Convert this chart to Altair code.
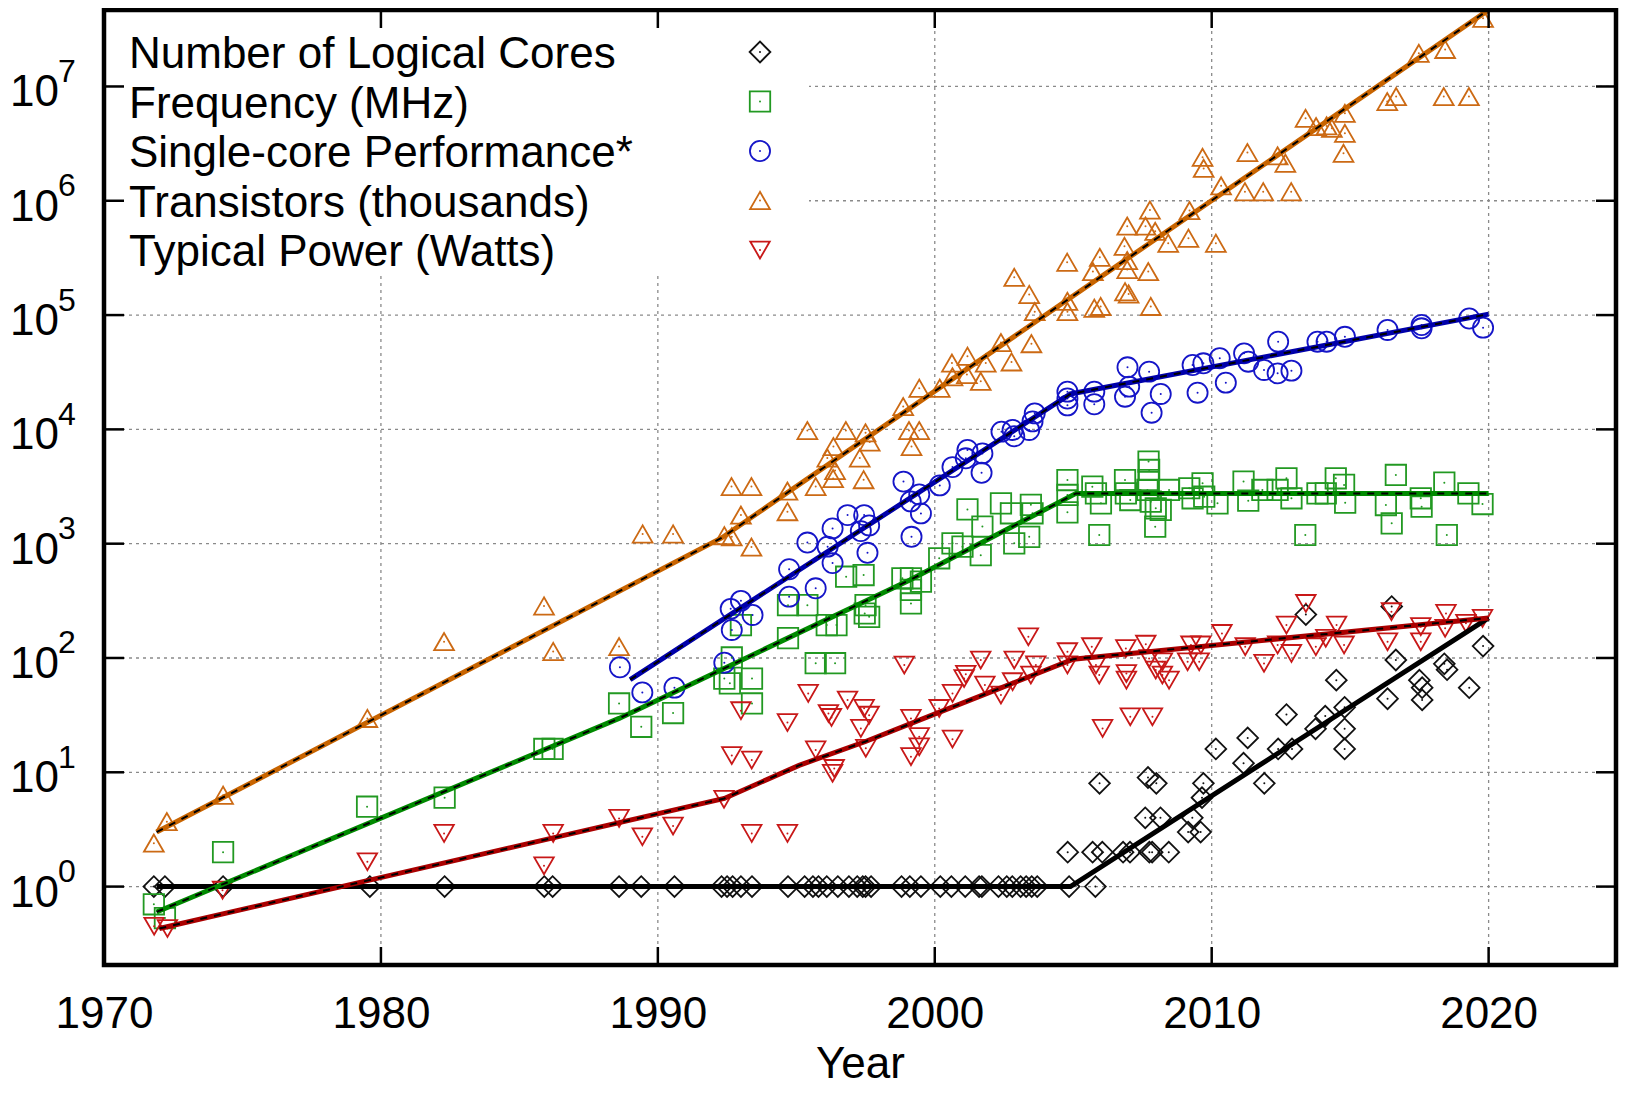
import altair as alt
import pandas as pd

FONT = "Liberation Sans"

SERIES = ["Number of Logical Cores", "Frequency (MHz)", "Single-core Performance*",
          "Transistors (thousands)", "Typical Power (Watts)"]
MARK_COLORS = ["#111111", "#229922", "#1515C8", "#CC6A14", "#C81818"]
LINE_COLORS = ["#000000", "#008A00", "#0000AA", "#C86400", "#AA0000"]
SHAPES = ["diamond", "square", "circle", "triangle-up", "triangle-down"]
SIZES = [430, 380, 330, 400, 400]

# ---- data: (year, value) ----
CORES = [(1971.8, 1), (1972.2, 1), (1974.3, 1), (1979.6, 1), (1982.3, 1), (1985.9, 1), (1986.2, 1),
         (1988.6, 1), (1989.4, 1), (1990.6, 1), (1992.3, 1), (1992.5, 1), (1992.7, 1), (1993.0, 1),
         (1993.4, 1), (1994.7, 1), (1995.3, 1), (1995.6, 1), (1995.8, 1), (1996.1, 1), (1996.5, 1),
         (1996.9, 1), (1997.2, 1), (1997.4, 1), (1997.5, 1), (1997.7, 1), (1998.8, 1), (1999.1, 1),
         (1999.5, 1), (2000.2, 1), (2000.6, 1), (2001.1, 1), (2001.6, 1), (2001.7, 1), (2002.3, 1),
         (2002.6, 1), (2002.8, 1), (2003.1, 1), (2003.3, 1), (2003.5, 1), (2003.7, 1), (2004.85, 1),
         (2005.8, 1),
         (2004.8, 2), (2005.7, 2), (2006.05, 2), (2006.8, 2), (2007.05, 2), (2007.75, 2), (2007.85, 2),
         (2008.45, 2), (2005.95, 8), (2007.7, 9), (2008.0, 8), (2007.6, 4), (2008.15, 4), (2009.15, 3),
         (2009.3, 4), (2009.6, 3), (2009.65, 6), (2009.7, 8), (2010.15, 16), (2011.15, 12), (2011.3, 20),
         (2011.9, 8), (2012.4, 16), (2012.7, 32), (2012.9, 16), (2013.75, 24), (2014.1, 31), (2014.5, 64),
         (2014.8, 37), (2014.8, 24), (2014.8, 16), (2013.4, 240), (2016.35, 44), (2016.65, 96),
         (2016.5, 282), (2017.5, 64), (2017.6, 55), (2017.6, 43), (2018.4, 89), (2018.5, 79),
         (2019.3, 55), (2019.8, 127)]

FREQ = [(1971.8, 0.70), (1972.2, 0.53), (1974.3, 2.0), (1979.5, 5.0), (1982.3, 6.0), (1985.9, 16),
        (1986.2, 16), (1988.6, 40), (1989.4, 25), (1990.55, 33), (1992.4, 66), (1992.67, 101),
        (1992.6, 60), (1993.4, 66), (1993.4, 40), (1993.0, 194), (1994.7, 149), (1994.7, 290),
        (1995.4, 290), (1995.7, 90), (1996.4, 90), (1996.1, 194), (1996.45, 194), (1997.47, 245),
        (1997.5, 290), (1997.63, 229), (1996.8, 514), (1997.43, 532), (1998.83, 498), (1999.14, 498),
        (1999.14, 300), (1999.5, 466), (1999.14, 394), (2000.16, 745), (2000.64, 1007), (2001.0, 942),
        (2001.66, 794), (2001.18, 1995), (2001.72, 1413), (2002.39, 2254), (2002.75, 1845),
        (2003.47, 2188), (2003.53, 1845), (2002.87, 1007), (2003.41, 1148),
        (2004.79, 3606), (2004.79, 2667), (2004.79, 1879), (2005.69, 3155), (2005.82, 2754),
        (2006.0, 2254), (2005.94, 1191), (2006.87, 3606), (2006.9, 2754), (2007.06, 2410),
        (2007.72, 5224), (2007.74, 4416), (2007.72, 3606), (2007.68, 2951), (2007.8, 2333),
        (2007.98, 2037), (2007.96, 1409), (2008.46, 2951), (2008.16, 1972), (2009.19, 3055),
        (2009.31, 2495), (2009.67, 3373), (2009.73, 2576), (2010.21, 2254), (2011.15, 3491),
        (2011.32, 2377), (2011.83, 2951), (2012.38, 2951), (2012.7, 3733), (2012.88, 2495),
        (2013.38, 1191), (2013.82, 2754), (2014.12, 2754), (2014.48, 3733), (2014.78, 3266),
        (2014.82, 2286), (2016.29, 2178), (2016.65, 3990), (2016.5, 1507), (2017.55, 2495),
        (2017.58, 2109), (2018.4, 3420), (2018.49, 1191), (2019.27, 2754), (2019.78, 2223)]

PERF = [(1988.63, 83), (1989.44, 50), (1990.6, 55), (1992.4, 91), (1992.67, 176), (1992.63, 269),
        (1993.0, 316), (1993.42, 238), (1994.74, 344), (1995.7, 407), (1994.74, 597), (1995.4, 1023),
        (1996.13, 942), (1996.31, 676), (1996.31, 1361), (1996.85, 1778), (1997.45, 1778),
        (1997.63, 1445), (1997.33, 1288), (1997.57, 832), (1998.87, 3491), (1999.16, 1148),
        (1999.13, 2344), (1999.5, 1841), (1999.44, 2692), (2000.18, 3236), (2000.64, 4677),
        (2001.12, 5585), (2001.18, 6607), (2001.72, 6166), (2001.69, 4169), (2002.41, 9550),
        (2002.87, 8710), (2002.81, 9886), (2003.41, 9886), (2003.53, 11749), (2003.61, 13804),
        (2004.79, 21380), (2004.79, 18621), (2004.79, 16218), (2005.76, 21380), (2005.76, 16596),
        (2006.96, 34914), (2006.87, 19320), (2007.02, 23659), (2007.74, 31989), (2008.16, 20417),
        (2007.83, 13996), (2009.31, 36559), (2009.7, 37844), (2009.49, 20941), (2010.29, 41879),
        (2010.51, 25645), (2011.17, 46238), (2011.32, 39084), (2012.4, 58479), (2011.89, 33113),
        (2012.38, 30903), (2012.88, 32659), (2013.82, 58479), (2014.15, 58479), (2014.81, 64565),
        (2016.35, 74131), (2017.58, 81846), (2017.58, 76560), (2019.3, 93325), (2019.8, 77625)]

TRANS = [(1971.8, 2.4), (1972.27, 3.7), (1974.3, 6.3), (1979.51, 29.6), (1982.28, 139),
         (1985.89, 285), (1986.22, 114), (1988.6, 126), (1989.45, 1216), (1990.55, 1216),
         (1992.4, 1175), (1992.67, 1148), (1993.38, 933), (1993.0, 1778), (1992.66, 3162),
         (1993.38, 3162), (1994.68, 2884), (1994.68, 1905), (1995.7, 3162), (1996.33, 3715),
         (1996.4, 4365), (1997.43, 3631), (1996.12, 5623), (1996.34, 7079), (1997.29, 5623),
         (1995.4, 9772), (1996.79, 9772), (1997.5, 9333), (1997.65, 7762), (1999.07, 9772),
         (1999.44, 9772), (1999.16, 7079), (1998.86, 15849), (1999.44, 22909), (2000.18, 22909),
         (2000.62, 38019), (2001.18, 43652), (2000.64, 28840), (2001.16, 30200), (2001.66, 26303),
         (2001.84, 38019), (2002.39, 57544), (2002.77, 38905), (2003.49, 56234), (2003.41, 151356),
         (2003.61, 107152), (2004.79, 131826), (2004.79, 107152), (2005.76, 114815),
         (2002.87, 213796), (2005.99, 119000), (2006.87, 160000), (2007.0, 153000), (2007.8, 119000),
         (2004.78, 290000), (2005.71, 240000), (2005.96, 320000), (2006.95, 300000),
         (2006.95, 250000), (2007.71, 240000), (2006.85, 400000), (2006.95, 600000),
         (2007.61, 600000), (2007.96, 540000), (2008.43, 425000), (2007.77, 830000),
         (2009.2, 820000), (2009.16, 470000), (2010.15, 425000), (2009.67, 2400000),
         (2009.71, 1920000), (2010.34, 1350000), (2011.2, 1200000), (2011.86, 1200000),
         (2012.87, 1200000), (2011.29, 2640000), (2012.38, 2470000), (2012.66, 2130000),
         (2013.39, 5270000), (2013.77, 4460000), (2014.15, 4520000), (2014.34, 4310000),
         (2014.81, 5820000), (2014.81, 3890000), (2014.76, 2600000), (2016.34, 7380000),
         (2016.66, 8150000), (2018.38, 8150000), (2019.29, 8150000), (2017.48, 19500000),
         (2018.43, 21100000), (2019.8, 39500000)]

POWER = [(1971.81, 0.45), (1972.29, 0.43), (1974.28, 0.93), (1979.51, 1.65), (1982.28, 2.92),
         (1985.89, 1.52), (1986.22, 2.92), (1988.6, 3.95), (1989.44, 2.73), (1990.55, 3.39),
         (1992.39, 5.8), (1993.39, 2.92), (1994.68, 2.92), (1992.67, 14), (1993.39, 12.8),
         (1993.0, 34.6), (1994.68, 27.2), (1995.43, 49), (1995.7, 15.7), (1996.37, 10.8),
         (1996.31, 9.8), (1996.16, 32.7), (1996.27, 30.2), (1996.85, 42.9), (1997.33, 24.2),
         (1997.51, 16.2), (1997.45, 36.3), (1997.63, 31.6), (1998.9, 86.7), (1999.14, 29.6),
         (1999.44, 20.5), (1999.44, 16.7), (1999.14, 13.7), (2000.16, 36.2), (2000.64, 19.5),
         (2000.64, 49), (2001.12, 72), (2001.06, 66), (2001.66, 96), (2001.81, 58), (2002.39, 47.4),
         (2002.81, 62), (2002.87, 96), (2003.38, 153), (2003.47, 71), (2003.65, 87), (2004.79, 113.5),
         (2004.79, 87), (2005.67, 125.6), (2005.82, 87), (2005.94, 71), (2006.06, 24.2),
         (2006.9, 121), (2006.92, 73), (2006.92, 64), (2007.06, 30.6), (2007.62, 132), (2007.74, 99),
         (2007.86, 30.6), (2007.98, 78.5), (2008.22, 92.7), (2008.22, 71), (2008.46, 64),
         (2009.13, 92.7), (2009.25, 130), (2009.55, 92.7), (2009.61, 130), (2010.37, 164),
         (2011.21, 125.6), (2011.89, 89.7), (2012.38, 130), (2012.7, 194), (2012.88, 109.6),
         (2013.4, 300), (2013.76, 125.6), (2014.12, 148.6), (2014.51, 194), (2014.78, 130),
         (2016.35, 138.7), (2016.49, 254), (2017.55, 138.7), (2017.55, 188), (2018.46, 245.5),
         (2018.43, 181.6), (2019.18, 201), (2019.78, 222)]

# fitted trend lines (break points)
TREND_CORES = [(1971.9, 1.0), (2004.9, 1.0), (2020.0, 224)]
TREND_FREQ = [(1971.9, 0.60), (1988.6, 29.6), (1999.1, 481), (2005.1, 2754), (2020.0, 2754)]
TREND_PERF = [(1989.0, 64.6), (2004.9, 20400), (2020.0, 102000)]
TREND_TRANS = [(1971.9, 3.0), (1992.3, 1122), (2020.0, 46800000)]
TREND_POWER = [(1972.0, 0.43), (1992.4, 5.9), (1995.1, 11.5), (1997.5, 18.6), (1999.9, 31.6),
               (2002.3, 53.7), (2005.0, 97.7), (2020.0, 224)]

X_TICKS = [1970, 1980, 1990, 2000, 2010, 2020]
Y_EXPONENTS = [0, 1, 2, 3, 4, 5, 6, 7]

# ---- layout ----
W, H = 1512, 955
X_DOMAIN = [1970, 2024.6]
Y_DOMAIN = [10 ** -0.686, 10 ** 7.669]
GRID = "#8a8a8a"

pts = pd.DataFrame(
    [dict(series=s, year=y, val=v) for s, data in zip(SERIES, [CORES, FREQ, PERF, TRANS, POWER])
     for (y, v) in data])
trend = pd.DataFrame(
    [dict(series=s, year=y, val=v, k=i) for s, data in
     zip(SERIES, [TREND_CORES, TREND_FREQ, TREND_PERF, TREND_TRANS, TREND_POWER])
     for i, (y, v) in enumerate(data)])
xt = pd.DataFrame({"year": X_TICKS})
yt = pd.DataFrame({"exp": Y_EXPONENTS, "val": [10.0 ** e for e in Y_EXPONENTS],
                   "ten": ["10"] * len(Y_EXPONENTS), "sup": [str(e) for e in Y_EXPONENTS]})
leg = pd.DataFrame({"series": SERIES})
one = pd.DataFrame({"k": [0]})

xs = alt.Scale(domain=X_DOMAIN, nice=False, zero=False)
ys = alt.Scale(type="log", domain=Y_DOMAIN, nice=False)
xax = alt.Axis(values=X_TICKS, format="d", grid=False, ticks=False, domain=False,
               labelFontSize=44, labelFont=FONT, labelColor="black", labelPadding=27,
               labelFlush=False, title="Year", titleFontSize=44, titleFont=FONT,
               titleFontWeight="normal", titleColor="black", titlePadding=6)


def X():
    return alt.X("year:Q", scale=xs, axis=xax)


def Y():
    return alt.Y("val:Q", scale=ys, axis=None)


shape_enc = alt.Shape("series:N", scale=alt.Scale(domain=SERIES, range=SHAPES), legend=None)
size_enc = alt.Size("series:N", scale=alt.Scale(domain=SERIES, range=SIZES), legend=None)
mcolor = alt.Color("series:N", scale=alt.Scale(domain=SERIES, range=MARK_COLORS), legend=None)
lcolor = alt.Color("series:N", scale=alt.Scale(domain=SERIES, range=LINE_COLORS), legend=None)

vgrid = alt.Chart(xt[xt.year > 1970]).mark_rule(color=GRID, strokeDash=[3, 4], strokeWidth=1.3).encode(x=X())
hgrid = alt.Chart(yt).mark_rule(color=GRID, strokeDash=[3, 4], strokeWidth=1.3).encode(y=Y())
legbox = alt.Chart(one).mark_rect(color="white").encode(
    x=alt.value(3), x2=alt.value(705), y=alt.value(3), y2=alt.value(265))

points = alt.Chart(pts).mark_point(filled=False, strokeWidth=1.8, opacity=1).encode(
    x=X(), y=Y(), shape=shape_enc, size=size_enc, color=mcolor)
dots = alt.Chart(pts).mark_circle(size=4, opacity=1).encode(x=X(), y=Y(), color=mcolor)

tlines = alt.Chart(trend).mark_line(strokeWidth=5, clip=True).encode(
    x=X(), y=Y(), color=lcolor, order="k:Q")
tdash = alt.Chart(trend[trend.series != SERIES[0]]).mark_line(
    strokeWidth=2, strokeDash=[7, 7], color="black", clip=True).encode(
    x=X(), y=Y(), detail="series:N", order="k:Q")

tick_style = dict(color="black", strokeWidth=2.5)
tb = alt.Chart(xt).mark_rule(**tick_style).encode(x=X(), y=alt.value(H), y2=alt.value(H - 18))
tt = alt.Chart(xt).mark_rule(**tick_style).encode(x=X(), y=alt.value(0), y2=alt.value(18))
tl = alt.Chart(yt).mark_rule(**tick_style).encode(y=Y(), x=alt.value(0), x2=alt.value(20))
tr = alt.Chart(yt).mark_rule(**tick_style).encode(y=Y(), x=alt.value(W - 20), x2=alt.value(W))

frame = alt.Chart(one).mark_rect(filled=False, stroke="black", strokeWidth=4.5).encode(
    x=alt.value(0), x2=alt.value(W), y=alt.value(0), y2=alt.value(H))

ylab_ten = alt.Chart(yt).mark_text(align="right", baseline="alphabetic", dy=20, fontSize=44,
                                   font=FONT, color="black").encode(
    y=Y(), x=alt.value(-45), text="ten:N")
ylab_sup = alt.Chart(yt).mark_text(align="left", baseline="alphabetic", dy=-4.5, fontSize=32,
                                   font=FONT, color="black").encode(
    y=Y(), x=alt.value(-46), text="sup:N")

ly = alt.Y("series:N", scale=alt.Scale(type="point", domain=SERIES, range=[42, 240], padding=0),
           axis=None)
leg_sym = alt.Chart(leg).mark_point(filled=False, strokeWidth=1.8, opacity=1).encode(
    x=alt.value(656), y=ly, shape=shape_enc, size=size_enc, color=mcolor)
leg_dot = alt.Chart(leg).mark_circle(size=4, opacity=1).encode(x=alt.value(656), y=ly, color=mcolor)
leg_txt = alt.Chart(leg).mark_text(align="left", baseline="alphabetic", dy=16, fontSize=44,
                                   font=FONT, color="black").encode(
    x=alt.value(25), y=ly, text="series:N")

chart = alt.layer(
    vgrid, hgrid, legbox, points, dots, tlines, tdash, tb, tt, tl, tr, frame,
    ylab_ten, ylab_sup, leg_sym, leg_dot, leg_txt
).resolve_scale(y="independent", color="independent").properties(
    width=W, height=H,
    padding={"left": 96, "top": 2, "right": 3, "bottom": 122},
    autosize=alt.AutoSizeParams(type="none"),
    background="white",
).configure_view(stroke=None)

chart.save("out.html", embed_options={"renderer": "svg", "actions": False})
